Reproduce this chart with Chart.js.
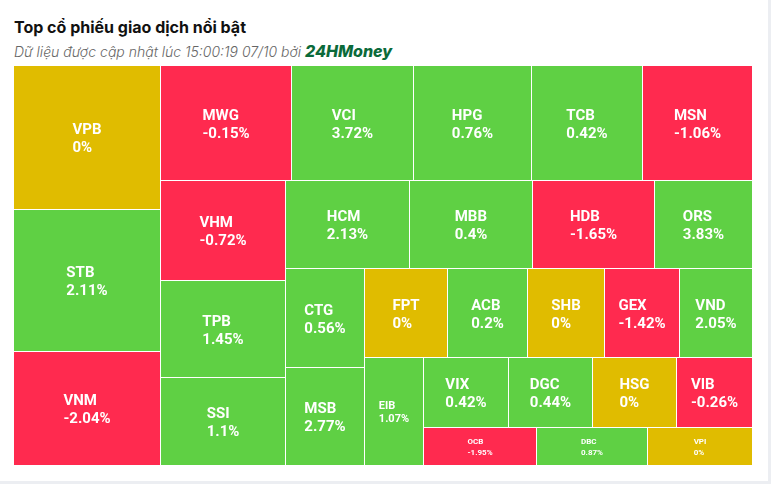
<!DOCTYPE html>
<html><head><meta charset="utf-8">
<script src="https://cdn.jsdelivr.net/npm/chart.js@4.4.0/dist/chart.umd.min.js"></script>
<style>
html,body{margin:0;padding:0;background:#eceef2;width:771px;height:484px;overflow:hidden;}
#card{position:absolute;left:0;top:0;width:768px;height:481px;background:#fff;}
#title{position:absolute;left:14px;top:17px;font:bold 16px Inter, Roboto, sans-serif;color:#111;white-space:nowrap;line-height:20px;}
#sub{position:absolute;left:14px;top:41px;font:italic 300 14px Inter, Roboto, sans-serif;color:#666;white-space:nowrap;line-height:20px;}
#sub b{font:italic 800 16px Inter, Roboto, sans-serif;color:#0b6a3a;}
#wrap{position:absolute;left:14px;top:66px;width:739px;height:400px;}
</style></head>
<body>
<div id="card"></div>
<div id="title">Top cổ phiếu giao dịch nổi bật</div>
<div id="sub">Dữ liệu được cập nhật lúc 15:00:19 07/10 bởi <b>24HMoney</b></div>
<div id="wrap"><canvas id="c" width="739" height="400"></canvas></div>
<script>
// Tickers, trading value, % change
const tickers = ["VPB","STB","VNM","MWG","VCI","HPG","TCB","MSN","VHM","TPB","SSI","HCM","MBB","HDB","ORS","CTG","MSB","FPT","ACB","SHB","GEX","VND","EIB","VIX","DGC","HSG","VIB","OCB","DBC","VPI"];
const values  = [1003,982,794,717,668,641,608,601,589,577,524,515,508,507,406,371,369,346,338,325,317,307,302,283,279,277,254,201,199,189];
const changes = [0,2.11,-2.04,-0.15,3.72,0.76,0.42,-1.06,-0.72,1.45,1.1,2.13,0.4,-1.65,3.83,0.56,2.77,0,0.2,0,-1.42,2.05,1.07,0.42,0.44,0,-0.26,-1.95,0.87,0];

const GREEN = "#5fd044", RED = "#ff2a4f", YELLOW = "#e0bc00";
const W = 739, H = 400;

// squarified layout with alternating strip direction
function layoutTreemap(vals, W, H) {
  const total = vals.reduce((a, b) => a + b, 0);
  const k = W * H / total;
  const out = [];
  const rect = {x: 0, y: 0, w: W, h: H};
  let dir = 0;
  let group = [];
  const ratio = (a, b) => Math.max(a / b, b / a);
  const thick = s => dir === 0 ? s / rect.h : s / rect.w;
  const sum = g => g.reduce((a, b) => a + b.a, 0);
  function place(g) {
    const t = thick(sum(g));
    let off = 0;
    g.forEach(it => {
      const len = it.a / t;
      out[it.i] = dir === 0 ? {x: rect.x, y: rect.y + off, w: t, h: len}
                            : {x: rect.x + off, y: rect.y, w: len, h: t};
      off += len;
    });
    if (dir === 0) { rect.x += t; rect.w -= t; } else { rect.y += t; rect.h -= t; }
    dir = 1 - dir;
  }
  vals.forEach((v, i) => {
    const item = {i, a: v * k};
    if (group.length) {
      const last = group[group.length - 1];
      const s = sum(group);
      const t0 = thick(s), r0 = ratio(t0, last.a / t0);
      const t1 = thick(s + item.a), r1 = ratio(t1, last.a / t1);
      if (r1 > r0) { place(group); group = [item]; return; }
    }
    group.push(item);
  });
  if (group.length) place(group);
  return out;
}
const cells = layoutTreemap(values, W, H);

function colorOf(c) { return c > 0 ? GREEN : (c < 0 ? RED : YELLOW); }
function fmt(c) { return (Math.round(c * 100) / 100) + "%"; }

const treemapPlugin = {
  id: 'treemapCells',
  afterDatasetsDraw(chart) {
    const {ctx, scales: {x, y}} = chart;
    ctx.save();
    cells.forEach((c, i) => {
      const x0 = Math.round(x.getPixelForValue(c.x)), x1 = Math.round(x.getPixelForValue(c.x + c.w));
      const y0 = Math.round(y.getPixelForValue(c.y)), y1 = Math.round(y.getPixelForValue(c.y + c.h));
      ctx.fillStyle = colorOf(changes[i]);
      ctx.fillRect(x0, y0, x1 - x0 - 1, y1 - y0 - 1);
      const w = x1 - x0, h = y1 - y0, m = Math.min(w, h);
      let fs, lh, dy;
      if (m >= 60) { fs = 15; lh = 18.3; dy = 2; } else if (m >= 45) { fs = 11; lh = 13.3; dy = 1.5; } else { fs = 8; lh = 11.5; dy = 1; }
      ctx.font = "bold " + fs + "px Roboto, sans-serif";
      ctx.fillStyle = "#ffffff";
      ctx.textBaseline = "middle";
      ctx.textAlign = "left";
      const l1 = tickers[i], l2 = fmt(changes[i]);
      const bw = Math.max(ctx.measureText(l1).width, ctx.measureText(l2).width);
      const cx = (x0 + x1 - 1) / 2, cy = (y0 + y1 - 1) / 2 + dy;
      const lx = cx - bw / 2;
      ctx.fillText(l1, lx, cy - lh / 2);
      ctx.fillText(l2, lx, cy + lh / 2);
    });
    ctx.restore();
  }
};

new Chart(document.getElementById('c'), {
  type: 'scatter',
  data: {
    datasets: [{
      label: 'Giá trị giao dịch',
      data: cells.map((c, i) => ({x: c.x + c.w / 2, y: c.y + c.h / 2, v: values[i]})),
      pointRadius: 0, pointHoverRadius: 0
    }]
  },
  options: {
    responsive: false,
    animation: false,
    devicePixelRatio: 1,
    layout: {padding: 0},
    plugins: {legend: {display: false}, tooltip: {enabled: false}, title: {display: false}},
    scales: {
      x: {type: 'linear', display: false, min: 0, max: W},
      y: {type: 'linear', display: false, min: 0, max: H, reverse: true}
    }
  },
  plugins: [treemapPlugin]
});
</script>
</body></html>
